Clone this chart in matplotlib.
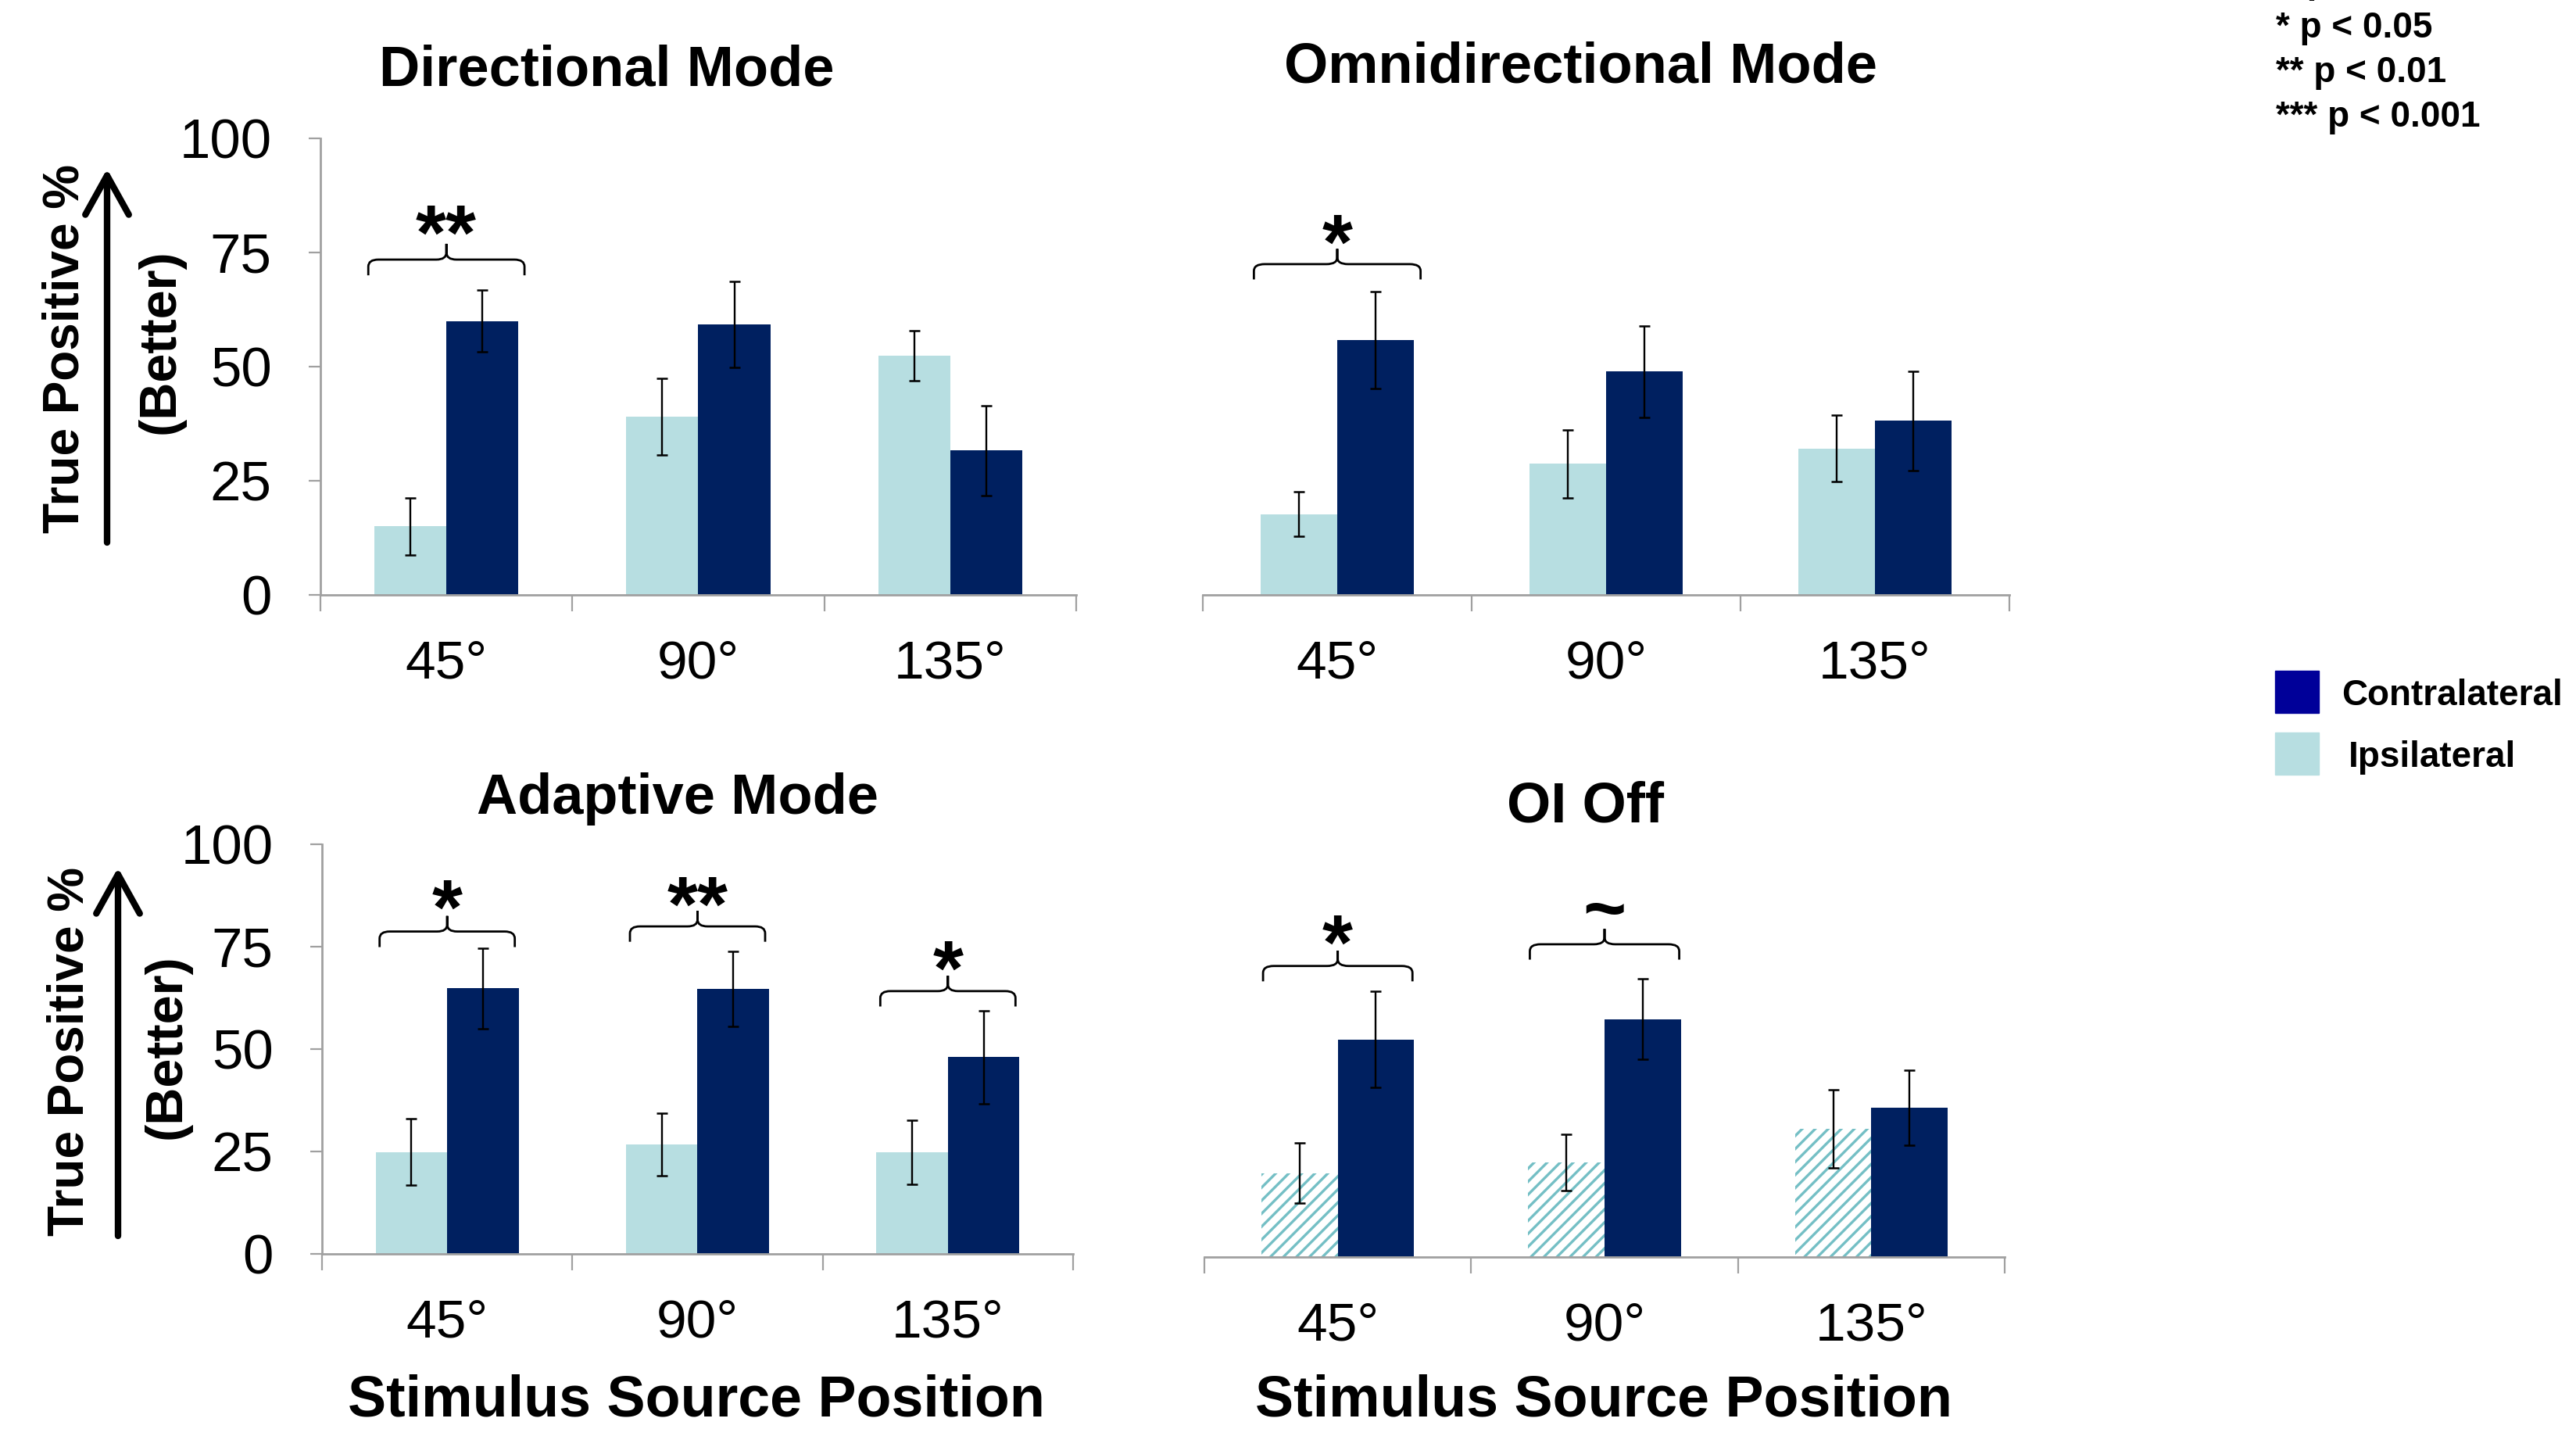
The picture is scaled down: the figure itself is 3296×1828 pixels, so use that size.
import matplotlib
matplotlib.use('Agg')
from matplotlib import pyplot as plt
from matplotlib.path import Path
from matplotlib.patches import PathPatch, Rectangle
import numpy

plt.rcParams['font.family'] = ['Liberation Sans', 'DejaVu Sans']
plt.rcParams['hatch.linewidth'] = 2.4

positions = ['45°', '90°', '135°']

directional_ipsi = [15.0, 39.0, 52.4]
directional_ipsi_err = [6.3, 8.4, 5.5]
directional_contra = [60.0, 59.2, 31.6]
directional_contra_err = [6.8, 9.4, 9.9]

omni_ipsi = [17.7, 28.7, 32.1]
omni_ipsi_err = [4.9, 7.4, 7.3]
omni_contra = [55.8, 48.9, 38.1]
omni_contra_err = [10.6, 10.0, 10.9]

adaptive_ipsi = [24.9, 26.7, 24.8]
adaptive_ipsi_err = [8.2, 7.7, 7.8]
adaptive_contra = [64.8, 64.7, 48.0]
adaptive_contra_err = [9.8, 9.2, 11.3]

oi_off_ipsi = [20.5, 23.1, 31.3]
oi_off_ipsi_err = [7.3, 6.8, 9.5]
oi_off_contra = [53.1, 58.1, 36.4]
oi_off_contra_err = [11.7, 9.9, 9.2]

# (category index, brace bottom, brace top, label centre, label)
directional_marks = [(0, 70.0, 76.9, 83.0, '**')]
omni_marks = [(0, 69.1, 75.8, 81.0, '*')]
adaptive_marks = [(0, 74.9, 82.5, 88.7, '*'), (1, 76.2, 83.7, 89.5, '**'), (2, 60.4, 67.9, 73.8, '*')]
oi_off_marks = [(0, 67.3, 74.8, 80.9, '*'), (1, 72.6, 80.1, 85.3, '~')]

significance_levels = ['~ p < 0.1', '* p < 0.05', '** p < 0.01', '*** p < 0.001']

CONTRA = '#002060'
IPSI = '#B7DEE1'
HATCH = '#74BFC5'
AXIS = '#A0A0A0'

W, H = 3296, 1828


def fx(px):
    return px / W


def fy(py):
    return 1 - py / H


def draw_brace(ax, xc, half, y_bot, y_top):
    y_mid = (y_bot + y_top) / 2
    rx = 0.04
    ry = (y_mid - y_bot) * 0.45
    verts, codes = [], []
    for side in (-1, 1):
        x_end = xc + side * half
        verts += [(xc, y_top), (xc, y_mid + ry), (xc, y_mid), (xc + side * rx, y_mid),
                  (x_end - side * rx, y_mid), (x_end, y_mid), (x_end, y_mid - ry), (x_end, y_bot)]
        codes += [Path.MOVETO, Path.LINETO, Path.CURVE3, Path.CURVE3,
                  Path.LINETO, Path.CURVE3, Path.CURVE3, Path.LINETO]
    ax.add_patch(PathPatch(Path(verts, codes), fill=False, lw=2.0, color='black', clip_on=False))


panels = [
    dict(title='Directional Mode', ipsi=directional_ipsi, ipsi_err=directional_ipsi_err,
         contra=directional_contra, contra_err=directional_contra_err, marks=directional_marks,
         rect=[fx(410), fy(761), fx(967), 584 / H], yaxis=True, hatched=False, half=0.31,
         title_xy=(776, 110)),
    dict(title='Omnidirectional Mode', ipsi=omni_ipsi, ipsi_err=omni_ipsi_err,
         contra=omni_contra, contra_err=omni_contra_err, marks=omni_marks,
         rect=[fx(1539), fy(761), fx(1032), 584 / H], yaxis=False, hatched=False, half=0.31,
         title_xy=(2023, 106)),
    dict(title='Adaptive Mode', ipsi=adaptive_ipsi, ipsi_err=adaptive_ipsi_err,
         contra=adaptive_contra, contra_err=adaptive_contra_err, marks=adaptive_marks,
         rect=[fx(412), fy(1604), fx(961), 524 / H], yaxis=True, hatched=False, half=0.27,
         title_xy=(867, 1041)),
    dict(title='OI Off', ipsi=oi_off_ipsi, ipsi_err=oi_off_ipsi_err,
         contra=oi_off_contra, contra_err=oi_off_contra_err, marks=oi_off_marks,
         rect=[fx(1541), fy(1608), fx(1024), 524 / H], yaxis=False, hatched=True, half=0.28,
         title_xy=(2029, 1052)),
]

fig = plt.figure(figsize=(W / 100, H / 100), dpi=100)

x = numpy.arange(1, len(positions) + 1)
width = 0.286

for p in panels:
    ax = fig.add_axes(p['rect'])
    if p['hatched']:
        ax.bar(x - width / 2, p['ipsi'], width, facecolor='white', edgecolor=HATCH,
               hatch='//', linewidth=0)
    else:
        ax.bar(x - width / 2, p['ipsi'], width, color=IPSI)
    ax.bar(x + width / 2, p['contra'], width, color=CONTRA)
    ax.errorbar(x - width / 2, p['ipsi'], yerr=p['ipsi_err'], fmt='none', ecolor='black',
                elinewidth=1.7, capsize=5, capthick=1.8)
    ax.errorbar(x + width / 2, p['contra'], yerr=p['contra_err'], fmt='none', ecolor='black',
                elinewidth=1.7, capsize=5, capthick=1.8)

    for idx, y_bot, y_top, y_lab, lab in p['marks']:
        xc = x[idx]
        draw_brace(ax, xc, p['half'], y_bot, y_top)
        if lab == '~':
            ax.annotate(lab, (xc, y_lab), xytext=(0, -24), textcoords='offset points',
                        ha='center', va='baseline', fontsize=68, fontweight='bold')
        else:
            ax.annotate(lab, (xc, y_lab), xytext=(0, -40), textcoords='offset points',
                        ha='center', va='baseline', fontsize=72, fontweight='bold')

    ax.set_xlim(0.5, len(positions) + 0.5)
    ax.set_ylim(0, 100)
    ax.set_xticks(numpy.arange(0.5, len(positions) + 1))
    ax.set_xticklabels([])
    ax.set_xticks(x, minor=True)
    ax.set_xticklabels(positions, minor=True)
    ax.tick_params(axis='x', which='major', length=15, width=1.6, color=AXIS)
    ax.tick_params(axis='x', which='minor', length=0, pad=41, labelsize=50)

    for side in ('top', 'right'):
        ax.spines[side].set_visible(False)
    ax.spines['bottom'].set_color(AXIS)
    ax.spines['bottom'].set_linewidth(2)
    if p['yaxis']:
        ax.spines['left'].set_color(AXIS)
        ax.spines['left'].set_linewidth(2)
        ax.set_yticks([0, 25, 50, 75, 100])
        ax.tick_params(axis='y', length=11, width=1.6, color=AXIS, pad=34, labelsize=51)
    else:
        ax.spines['left'].set_visible(False)
        ax.tick_params(axis='y', left=False, labelleft=False)

    fig.text(fx(p['title_xy'][0]), fy(p['title_xy'][1]), p['title'], ha='center',
             va='baseline', fontsize=52, fontweight='bold')

# x axis titles
for cx in (891, 2052):
    fig.text(fx(cx), fy(1812), 'Stimulus Source Position', ha='center', va='baseline',
             fontsize=53, fontweight='bold')

# y axis titles with "better" arrows
for tp, bt, ax_x, tail, tip in [((84, 446), (206, 437), 137, 694, 216),
                                ((90, 1345), (214, 1339), 151, 1581, 1110)]:
    fig.text(fx(tp[0]), fy(tp[1]), 'True Positive %', rotation=90, ha='center',
             va='center', fontsize=46, fontweight='bold')
    fig.text(fx(bt[0]), fy(bt[1]), '(Better)', rotation=90, ha='center',
             va='center', fontsize=48, fontweight='bold')
    fig.add_artist(matplotlib.patches.FancyArrowPatch(
        (fx(ax_x), fy(tail)), (fx(ax_x), fy(tip)), transform=fig.transFigure,
        arrowstyle='->,head_length=1.8,head_width=1.0', lw=6, color='black',
        mutation_scale=20, shrinkA=0, shrinkB=0))

# significance key
for i, txt in enumerate(significance_levels):
    fig.text(fx(2912), fy(-9 + 57 * i), txt, ha='left', va='baseline',
             fontsize=33, fontweight='bold')

# series key
for y0, col, lab, tx in [(858, '#000099', 'Contralateral', 2996),
                         (937, IPSI, 'Ipsilateral', 3005)]:
    fig.add_artist(Rectangle((fx(2911), fy(y0 + 54)), fx(56), 54 / H, color=col,
                             transform=fig.transFigure))
    fig.text(fx(tx), fy(y0 + 44), lab, ha='left', va='baseline', fontsize=33,
             fontweight='bold')

fig.savefig('out.png', dpi=100)
